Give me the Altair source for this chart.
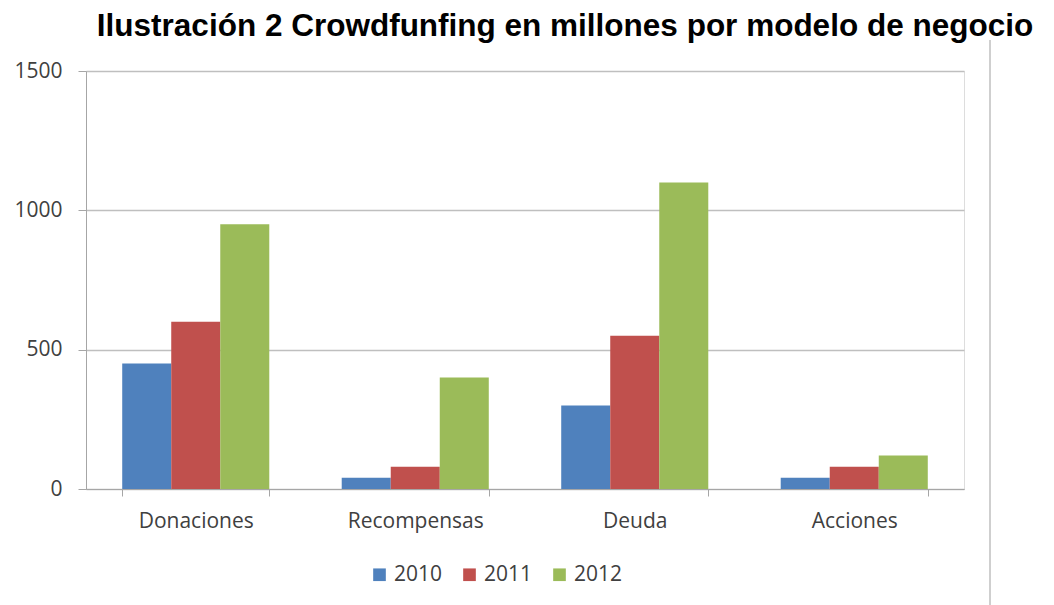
import altair as alt
import pandas as pd

categories = ["Donaciones", "Recompensas", "Deuda", "Acciones"]
years = ["2010", "2011", "2012"]
v2010 = [450, 40, 300, 40]
v2011 = [600, 80, 550, 80]
v2012 = [950, 400, 1100, 120]
colors = ["#4F81BD", "#C0504D", "#9BBB59"]
title_text = "Ilustración 2 Crowdfunfing en millones por modelo de negocio"

rows = []
for i, c in enumerate(categories):
    for y, vals in zip(years, [v2010, v2011, v2012]):
        rows.append({"Modelo": c, "Año": y, "Valor": vals[i]})
df = pd.DataFrame(rows)

W, H = 878, 418
LABEL_FONT = "Open Sans"
LABEL_COLOR = "#404040"

bars = alt.Chart(df).mark_bar().encode(
    x=alt.X("Modelo:N", sort=categories, title=None,
            scale=alt.Scale(paddingInner=0.33, paddingOuter=0.165),
            axis=alt.Axis(labelAngle=0, tickBand="extent", labelFont=LABEL_FONT,
                          labelFontSize=21, labelColor=LABEL_COLOR, labelPadding=14,
                          domainColor="#a6a6a6", tickColor="#a6a6a6", tickSize=7,
                          grid=False)),
    xOffset=alt.XOffset("Año:N", sort=years, scale=alt.Scale(paddingInner=0, paddingOuter=0)),
    y=alt.Y("Valor:Q", title=None,
            scale=alt.Scale(domain=[0, 1500], nice=False),
            axis=alt.Axis(values=[0, 500, 1000, 1500], format="d", labelFont=LABEL_FONT,
                          labelFontSize=21, labelColor=LABEL_COLOR, labelPadding=16,
                          domainColor="#a6a6a6", tickColor="#a6a6a6", tickSize=8,
                          gridColor="#bfbfbf", gridWidth=1.3)),
    color=alt.Color("Año:N", sort=years, scale=alt.Scale(domain=years, range=colors),
                    legend=alt.Legend(title=None, orient="none", direction="horizontal",
                                      legendX=283, legendY=493, padding=0,
                                      symbolType="square", symbolSize=160,
                                      symbolStrokeWidth=0, labelFont=LABEL_FONT,
                                      labelFontSize=21, labelColor=LABEL_COLOR,
                                      columnPadding=16, labelOffset=4)),
)

vline = alt.Chart(pd.DataFrame({"a": [0]})).mark_rule(color="#bfbfbf", strokeWidth=1.5).encode(
    x=alt.value(904), y=alt.value(-31), y2=alt.value(560)
)

chart = alt.layer(bars, vline).properties(
    width=W, height=H,
    title=alt.TitleParams(title_text, font="Liberation Sans", fontSize=31.5, fontWeight="bold",
                          color="#000000", anchor="middle", frame="group", dx=40, offset=-3),
    autosize=alt.AutoSizeParams(type="none"),
    padding={"left": 86, "top": 71, "right": 90, "bottom": 116},
).configure_view(stroke=None).configure(background="white")

chart.save("out.html", embed_options={"renderer": "svg", "actions": False})
